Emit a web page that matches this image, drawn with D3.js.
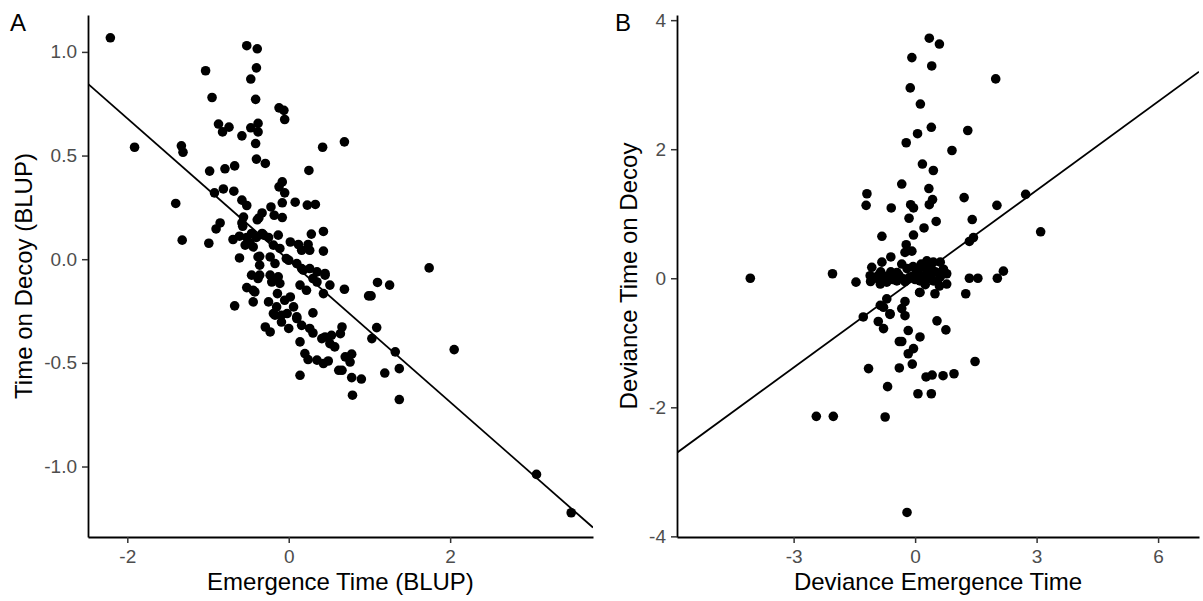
<!DOCTYPE html>
<html>
<head>
<meta charset="utf-8">
<script src="https://cdn.jsdelivr.net/npm/d3@7"></script>
<style>
  body { margin: 0; background: #fff; }
  svg { font-family: "Liberation Sans", Arial, sans-serif; }
  .tick text { fill: #4d4d4d; font-size: 19px; }
  .tick line { stroke: #333333; stroke-width: 1.5; }
  .domain { stroke: #000; stroke-width: 1.8; }
  .title { font-size: 24px; fill: #000; }
  .tag { font-size: 24px; fill: #000; }
</style>
</head>
<body>
<svg id="chart" width="1203" height="601"></svg>
<script>
// Panel A: BLUPs (emergence time vs time on decoy)
var a_x = [-2.21,-1.91,-0.52,-0.39,-1.03,-0.40,-0.47,-0.95,-0.41,-0.12,-0.06,-0.05,-0.87,-0.74,-0.82,-0.58,-0.47,-0.38,-0.38,-0.41,
  -1.33,-1.31,-0.40,-0.29,-0.98,-0.79,-0.67,-1.40,-1.32,-0.99,-0.92,-0.81,-0.68,-0.58,-0.52,-0.08,-0.05,-0.08,0.08,-0.22,
  -0.18,-0.08,-0.90,-0.85,-0.56,-0.58,-0.37,-0.33,-0.61,0.42,0.25,-0.12,0.23,0.33,-0.39,-0.57,0.28,0.43,0.43,-0.69,
  -0.61,-0.52,-0.48,-0.40,-0.31,-0.25,-0.13,0.02,0.12,0.24,0.26,0.16,-0.54,-0.44,-0.19,-0.11,-0.36,-0.23,-0.36,-0.17,
  -0.03,0.10,0.16,0.26,0.35,0.45,0.30,0.51,0.69,1.10,1.25,0.99,1.02,-0.46,-0.36,-0.23,-0.13,-0.11,-0.21,-0.52,
  -0.42,-0.44,-0.14,0.14,0.22,0.43,-0.67,-0.25,-0.15,-0.05,0.02,0.06,-0.02,0.10,-0.19,-0.09,0.30,-0.29,-0.23,0.00,
  0.16,0.26,0.30,0.14,0.41,0.53,0.66,0.64,0.51,0.57,1.03,1.09,0.20,0.24,0.35,0.43,0.49,0.70,0.78,0.76,
  0.62,0.66,0.78,0.90,0.14,1.19,1.32,1.37,0.79,1.74,1.37,2.05,3.07,3.50,0.69,-0.46,-0.33,-0.38,0.00,0.18,
  0.45,0.35,-0.38,-0.44,-0.09,-0.17,0.10,0.45];
var a_y = [1.068,0.540,1.030,1.015,0.909,0.923,0.869,0.780,0.771,0.730,0.718,0.674,0.652,0.637,0.614,0.595,0.634,0.655,0.614,0.558,
  0.547,0.516,0.483,0.462,0.425,0.436,0.450,0.269,0.092,0.077,0.320,0.339,0.328,0.285,0.259,0.373,0.320,0.272,0.275,0.252,
  0.212,0.201,0.146,0.175,0.203,0.175,0.199,0.223,0.006,0.540,0.428,0.349,0.261,0.264,0.190,0.159,0.121,0.134,0.039,0.095,
  0.111,0.105,0.079,0.105,0.116,0.105,0.116,0.083,0.071,0.071,0.043,0.043,0.068,0.059,0.068,0.052,0.014,0.011,-0.029,-0.021,
  0.003,-0.021,-0.045,-0.045,-0.061,-0.077,-0.093,-0.125,-0.145,-0.112,-0.125,-0.177,-0.177,-0.077,-0.077,-0.077,-0.085,-0.117,-0.110,-0.137,
  -0.158,-0.206,-0.166,-0.125,-0.150,-0.166,-0.225,-0.206,-0.230,-0.198,-0.182,-0.230,-0.262,-0.278,-0.262,-0.303,-0.259,-0.327,-0.351,-0.334,
  -0.319,-0.334,-0.356,-0.399,-0.383,-0.367,-0.327,-0.359,-0.407,-0.423,-0.383,-0.330,-0.455,-0.484,-0.487,-0.503,-0.491,-0.471,-0.458,-0.496,
  -0.536,-0.536,-0.571,-0.578,-0.560,-0.549,-0.447,-0.528,-0.656,-0.042,-0.677,-0.436,-1.038,-1.223,0.566,0.124,0.124,0.011,-0.005,-0.053,
  -0.069,-0.110,-0.093,-0.150,-0.270,-0.270,-0.286,-0.375];

// Panel B: deviances
var b_x = [-4.07,-2.04,-1.46,-1.19,-1.21,-0.59,-0.82,-0.60,-0.82,-1.07,-0.33,-2.44,-2.02,-0.74,-0.68,-1.15,-1.28,-0.91,-0.78,-0.62,
  -0.86,-0.39,-0.39,0.35,0.60,-0.08,0.41,1.99,-0.12,0.13,0.40,0.06,-0.22,1.30,0.91,0.18,0.45,0.34,0.43,0.35,
  -0.11,-0.04,-0.15,0.52,1.21,2.02,2.73,3.10,1.41,1.34,1.44,0.22,-0.04,-0.22,-0.08,-0.25,2.18,2.03,1.34,1.55,
  1.25,0.49,0.11,-0.25,-0.70,-0.78,-0.62,-0.25,-0.33,0.54,0.76,-0.17,0.12,-0.33,-0.04,
  -1.11,-0.95,-0.78,-0.62,-0.45,-0.29,-0.12,0.04,0.21,0.29,0.45,0.62,0.70,0.78,0.62,0.45,0.29,0.12,-0.04,-0.20,
  -0.33,0.21,-0.70,-0.86,-0.45,0.12,0.78,
  -1.00,-0.90,-0.70,-0.55,-0.40,-0.25,-0.15,0.00,0.10,0.30,0.40,0.50,0.55,0.65,0.35,0.15,-0.05,0.05,0.40,-0.60,
  -0.85,0.25,0.60,-1.10,
  -0.17,-0.07,0.69,0.96,1.48,0.27,0.42,0.07,0.40,-0.20];
var b_y = [0.00,0.07,-0.06,1.31,1.13,1.09,0.65,0.33,0.25,0.17,1.46,-2.14,-2.14,-2.15,-1.68,-1.40,-0.60,-0.67,-0.78,-0.56,
  -0.42,-0.98,-1.39,3.72,3.63,3.42,3.29,3.09,2.95,2.70,2.34,2.24,2.10,2.29,1.98,1.77,1.67,1.39,1.22,1.14,
  1.14,1.09,0.93,0.88,1.25,1.13,1.30,0.72,0.91,0.57,0.63,0.78,0.67,0.52,0.42,0.40,0.11,0.00,0.00,0.00,
  -0.24,-0.24,-0.22,-0.36,-0.32,-0.45,-0.55,-0.58,-0.47,-0.66,-0.80,-0.81,-0.91,-0.98,-1.09,
  0.04,0.02,-0.01,0.02,-0.04,-0.01,0.02,0.09,0.17,0.27,0.25,0.25,0.14,0.07,0.02,-0.04,-0.01,-0.04,0.04,0.15,
  0.22,0.04,-0.06,-0.09,0.09,-0.22,-0.09,
  0.00,0.05,0.03,-0.02,0.05,-0.05,0.00,-0.02,0.05,0.08,0.00,0.10,-0.05,0.10,0.20,0.22,0.18,0.12,0.15,0.10,
  0.10,-0.10,-0.12,-0.05,
  -1.17,-1.33,-1.51,-1.48,-1.29,-1.53,-1.50,-1.79,-1.79,-3.63];

// fitted lines (intercept, slope)
var a_fit = [-0.005, -0.342];
var b_fit = [-0.01, 0.458];

var a_xticks = [-2, 0, 2];
var a_yticks = [-1.0, -0.5, 0.0, 0.5, 1.0];
var b_xticks = [-3, 0, 3, 6];
var b_yticks = [-4, -2, 0, 2, 4];

var svg = d3.select("#chart");
var top_y = 15, bottom_y = 537;

function drawPanel(opt) {
    var x = d3.scaleLinear().domain(opt.xdom).range([opt.left, opt.right]);
    var y = d3.scaleLinear().domain(opt.ydom).range([bottom_y, top_y]);
    var g = svg.append("g");

    g.append("g")
        .attr("transform", "translate(0," + bottom_y + ")")
        .call(d3.axisBottom(x).tickValues(opt.xticks).tickFormat(opt.xfmt)
            .tickSize(6).tickSizeOuter(0).tickPadding(7));
    g.append("g")
        .attr("transform", "translate(" + opt.left + ",0)")
        .call(d3.axisLeft(y).tickValues(opt.yticks).tickFormat(opt.yfmt)
            .tickSize(6).tickSizeOuter(0).tickPadding(5));

    var pts = d3.zip(opt.xs, opt.ys);
    g.selectAll(".dot").data(pts).enter().append("circle")
        .attr("class", "dot")
        .attr("cx", function(d) { return x(d[0]); })
        .attr("cy", function(d) { return y(d[1]); })
        .attr("r", 4.8)
        .attr("fill", "#000");

    // regression line, clipped to the panel
    var clipId = "clip" + opt.tag;
    svg.append("clipPath").attr("id", clipId).append("rect")
        .attr("x", opt.left).attr("y", top_y)
        .attr("width", opt.right - opt.left).attr("height", bottom_y - top_y);
    var x0 = opt.xdom[0], x1 = opt.xdom[1];
    g.append("line")
        .attr("clip-path", "url(#" + clipId + ")")
        .attr("x1", x(x0)).attr("y1", y(opt.fit[0] + opt.fit[1] * x0))
        .attr("x2", x(x1)).attr("y2", y(opt.fit[0] + opt.fit[1] * x1))
        .attr("stroke", "#000").attr("stroke-width", 1.8);

    g.append("text").attr("class", "title")
        .attr("x", (opt.left + opt.right) / 2).attr("y", 590)
        .attr("text-anchor", "middle").text(opt.xlab);
    g.append("text").attr("class", "title")
        .attr("transform", "translate(" + opt.ylabX + "," + (top_y + bottom_y) / 2 + ") rotate(-90)")
        .attr("text-anchor", "middle").text(opt.ylab);
    g.append("text").attr("class", "tag")
        .attr("x", opt.tagX).attr("y", 31).text(opt.tag);
}

drawPanel({
    tag: "A", tagX: 10,
    left: 88, right: 593,
    xdom: [-2.487, 3.77], ydom: [-1.34, 1.178],
    xs: a_x, ys: a_y, fit: a_fit,
    xticks: a_xticks, yticks: a_yticks,
    xfmt: d3.format("d"), yfmt: d3.format(".1f"),
    xlab: "Emergence Time (BLUP)", ylab: "Time on Decoy (BLUP)", ylabX: 32
});

drawPanel({
    tag: "B", tagX: 615,
    left: 677, right: 1199,
    xdom: [-5.88, 7.01], ydom: [-4.01, 4.08],
    xs: b_x, ys: b_y, fit: b_fit,
    xticks: b_xticks, yticks: b_yticks,
    xfmt: d3.format("d"), yfmt: d3.format("d"),
    xlab: "Deviance Emergence Time", ylab: "Deviance Time on Decoy", ylabX: 637
});

// d3 uses a unicode minus; the reference shows a plain hyphen
svg.selectAll(".tick text").text(function() { return this.textContent.replace("\u2212", "-"); });
</script>
</body>
</html>
